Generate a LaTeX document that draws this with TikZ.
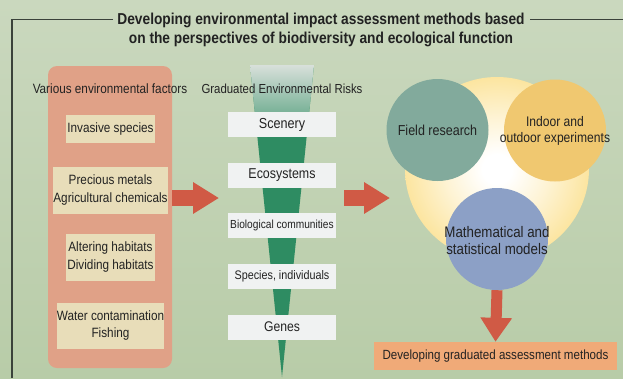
\documentclass[tikz,border=0pt]{standalone}
\usepackage{fontspec}
\setmainfont[FakeStretch=0.87]{Liberation Sans}
\usetikzlibrary{arrows.meta}
\definecolor{bgtop}{HTML}{CAD8BE}
\definecolor{bgbot}{HTML}{B8CCA8}
\definecolor{salmon}{HTML}{E0A187}
\definecolor{beige}{HTML}{E8DDB9}
\definecolor{redarr}{HTML}{D05A45}
\definecolor{fgreen}{HTML}{2E8C62}
\definecolor{ftop}{HTML}{D8E0DA}
\definecolor{wbox}{HTML}{F0F2F2}
\definecolor{teal}{HTML}{82AA9C}
\definecolor{ochre}{HTML}{F0C870}
\definecolor{slate}{HTML}{8CA0C6}
\definecolor{glowy}{HTML}{FCE5A0}
\definecolor{orangebox}{HTML}{F0AA78}
\definecolor{frame}{HTML}{3A423A}
\definecolor{ink}{HTML}{222222}
\pgfdeclareradialshading{glow}{\pgfpoint{0bp}{0bp}}{color(0bp)=(white); color(4bp)=(white); color(14bp)=(white!55!glowy); color(25bp)=(glowy); color(50bp)=(glowy)}
\tikzset{
  txt/.style={font=\fontsize{13.5}{18}\selectfont, text=ink, align=center, inner sep=0pt},
  factorbox/.style={txt, fill=beige, minimum width=89pt},
  riskbox/.style={txt, fill=wbox, minimum width=108pt, minimum height=25pt},
  method/.style={circle, minimum size=102pt, inner sep=0pt},
  blockarrow/.style={line width=16pt, color=redarr, -{Triangle[length=26pt,width=30pt]}},
}
\begin{document}
\begin{tikzpicture}[x=1pt,y=-1pt]
\useasboundingbox (0,0) rectangle (623,378);
\shade[top color=bgtop, bottom color=bgbot] (0,0) rectangle (623,378);
% frame
\draw[frame, line width=1.4pt] (113,19.5) -- (12,19.5) -- (12,378);
\draw[frame, line width=1.4pt] (530,19.5) -- (623,19.5);
\node[txt, font=\fontsize{15.8}{19}\bfseries\selectfont] (title) at (321,30)
  {Developing environmental impact assessment methods based\\on the perspectives of biodiversity and ecological function};
% left column
\fill[salmon, rounded corners=9pt] (48,66) rectangle (172,368);
\coordinate (salE) at (172,198);
\node[txt] (factors) at (110,89) {Various environmental factors};
\node[factorbox, minimum height=28pt] (f1) at (110.5,129) {Invasive species};
\node[factorbox, minimum height=47pt] (f2) at (110.5,190.5) {Precious metals\\Agricultural chemicals};
\node[factorbox, minimum height=47pt] (f3) at (110.5,257.5) {Altering habitats\\Dividing habitats};
\node[factorbox, minimum height=46pt, font=\fontsize{13.5}{17}\selectfont] (f4) at (110.5,326) {Water contamination\\Fishing};
% funnel
\fill[fgreen] (250,65) -- (314,65) -- (282,377) -- cycle;
\shade[top color=ftop, bottom color=fgreen!55!ftop] (250,65) -- (314,65) -- (309.2,112) -- (254.8,112) -- cycle;
\coordinate (funW) at (219,198);
\coordinate (funE) at (344,198);
\node[txt, font=\fontsize{13.1}{16}\selectfont] (risks) at (282,89) {Graduated Environmental Risks};
\node[riskbox, font=\fontsize{14.5}{16}\selectfont] (r1) at (282,124.5) {Scenery};
\node[riskbox, font=\fontsize{14.3}{16}\selectfont] (r2) at (282,175.5) {Ecosystems};
\node[riskbox, font=\fontsize{11.7}{14}\selectfont] (r3) at (282,225.5) {Biological communities};
\node[riskbox, font=\fontsize{12.4}{14}\selectfont] (r4) at (282,276.5) {Species, individuals};
\node[riskbox, font=\fontsize{14}{16}\selectfont] (r5) at (282,327) {Genes};
% methods
\shade[shading=glow] (497,169) circle (92pt);
\coordinate (glowW) at (390,198);
\node[method, fill=teal] (field) at (437.5,130) {};
\node[method, fill=ochre] (indoor) at (555,130.5) {};
\node[method, fill=slate] (math) at (497,239) {};
\node[txt, font=\fontsize{14.4}{16}\selectfont] at (field) {Field research};
\node[txt, font=\fontsize{13.9}{16}\selectfont] at (indoor) {Indoor and\\outdoor experiments};
\node[txt, font=\fontsize{15.3}{17}\selectfont] at ([yshift=-2pt]math.center) {Mathematical and\\statistical models};
\node[txt, font=\fontsize{13.3}{16}\selectfont, fill=orangebox, minimum width=243pt, minimum height=28pt] (result) at (495.5,356) {Developing graduated assessment methods};
% arrows
\draw[blockarrow] (salE) -- (funW);
\draw[blockarrow] (funE) -- (glowW);
\draw[blockarrow, line width=11pt, -{Triangle[length=24pt,width=30pt]}] (math.south) -- (result.north);
\end{tikzpicture}
\end{document}
